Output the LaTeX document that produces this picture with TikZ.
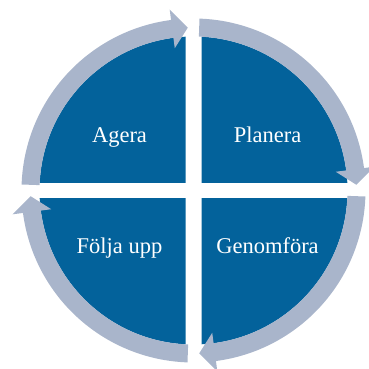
\documentclass[tikz,border=0pt]{standalone}
\usepackage{fontspec}
\setmainfont{Liberation Serif}
\definecolor{darkblue}{RGB}{3,98,155}
\definecolor{ringblue}{RGB}{169,181,203}
\begin{document}
\begin{tikzpicture}[x=1pt,y=1pt,
  quad/.style={fill=darkblue},
  ring/.style={fill=ringblue},
  label/.style={text=white,font=\fontsize{22.5}{26}\selectfont,anchor=base}]
\useasboundingbox (-193.5,-178.5) rectangle (174.5,190.5);
% dark quadrants
\foreach \sx/\sy in {1/1,-1/1,1/-1,-1/-1}{
  \begin{scope}
    \clip (\sx*8,\sy*8) rectangle (\sx*200,\sy*200);
    \fill[quad] (0,0) circle (154);
  \end{scope}
}
% ring arrows
\foreach \rot in {0,-90,-180,-270}{
  \fill[ring,rotate=\rot] (178:172) arc[start angle=178,end angle=97.5,radius=172]
    -- (97.5:182.5) -- (92:163) -- (97.5:143.5) -- (97.5:154)
    arc[start angle=97.5,end angle=178,radius=154] -- cycle;
}
\node[label] (agera) at (-74,47.5) {Agera};
\node[label] (planera) at (74,47.5) {Planera};
\node[label] (folja) at (-74,-62.5) {Följa upp};
\node[label] (genomfora) at (74,-62.5) {Genomföra};
\end{tikzpicture}
\end{document}
